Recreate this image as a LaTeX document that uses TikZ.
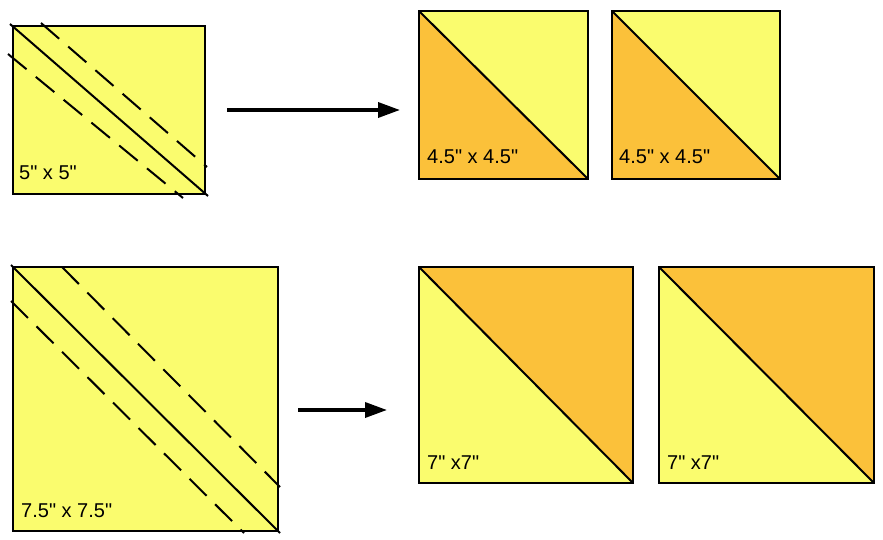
\documentclass[tikz,border=0pt]{standalone}
\usepackage{fontspec}
\newfontfamily\quiltfont{Liberation Sans}
\usetikzlibrary{arrows.meta, positioning}
\definecolor{patchyellow}{RGB}{250,252,110}
\definecolor{patchorange}{RGB}{251,193,58}

\begin{document}
\begin{tikzpicture}[
    x=1pt, y=-1pt,
    patch/.style={rectangle, draw, line width=2.2pt, fill=patchyellow, inner sep=0pt, outer sep=0pt, anchor=north west},
    lowhalf/.style={path picture={\fill[patchorange] (path picture bounding box.north west) -- (path picture bounding box.south west) -- (path picture bounding box.south east) -- cycle;}},
    highhalf/.style={path picture={\fill[patchorange] (path picture bounding box.north west) -- (path picture bounding box.north east) -- (path picture bounding box.south east) -- cycle;}},
    cut/.style={line width=2pt},
    seam/.style={line width=2pt, dash pattern=on 24pt off 12pt},
    size/.style={anchor=base west, inner sep=0pt, font=\quiltfont\fontsize{20}{22}\selectfont},
    arrow/.style={-{Triangle[length=22pt, width=15pt]}, line width=3.5pt}
  ]
  \useasboundingbox (0,0) rectangle (883,540);

  % Top row
  \node[patch, minimum width=192pt, minimum height=168pt] (small) at (13,26) {};
  \draw[seam] (41,23) -- (207,167);
  \draw[seam] (8,54) -- (183,198);
  \draw[cut] ([shift={(-3,-2)}]small.north west) -- ([shift={(3,2)}]small.south east);
  \node[size] (smalltxt) at (19,180) {5" x 5"};

  \node[patch, lowhalf, minimum width=169pt, minimum height=168pt] (hsta) at (419,11) {};
  \draw[cut] (hsta.north west) -- (hsta.south east);
  \node[size] (hstatxt) at (427,164) {4.5" x 4.5"};

  \node[patch, lowhalf, minimum width=168pt, minimum height=168pt] (hstb) at (612,11) {};
  \draw[cut] (hstb.north west) -- (hstb.south east);
  \node[size] (hstbtxt) at (619,164) {4.5" x 4.5"};

  \coordinate (topfrom) at (227,110);
  \coordinate (topto) at (400,110);
  \draw[arrow] (topfrom) -- (topto);

  % Bottom row
  \node[patch, minimum width=265pt, minimum height=264pt] (large) at (13,267) {};
  \draw[seam] (62,267) -- (280,487);
  \draw[seam] (11,301) -- (244,533);
  \draw[cut] ([shift={(-2,-2)}]large.north west) -- ([shift={(2,2)}]large.south east);
  \node[size] (largetxt) at (21,517) {7.5" x 7.5"};

  \node[patch, highhalf, minimum width=214pt, minimum height=216pt] (hstc) at (419,267) {};
  \draw[cut] (hstc.north west) -- (hstc.south east);
  \node[size] (hstctxt) at (427,469) {7" x7"};

  \node[patch, highhalf, minimum width=215pt, minimum height=216pt] (hstd) at (659,267) {};
  \draw[cut] (hstd.north west) -- (hstd.south east);
  \node[size] (hstdtxt) at (667,469) {7" x7"};

  \coordinate (lowfrom) at (298,410);
  \coordinate (lowto) at (387,410);
  \draw[arrow] (lowfrom) -- (lowto);
\end{tikzpicture}
\end{document}
